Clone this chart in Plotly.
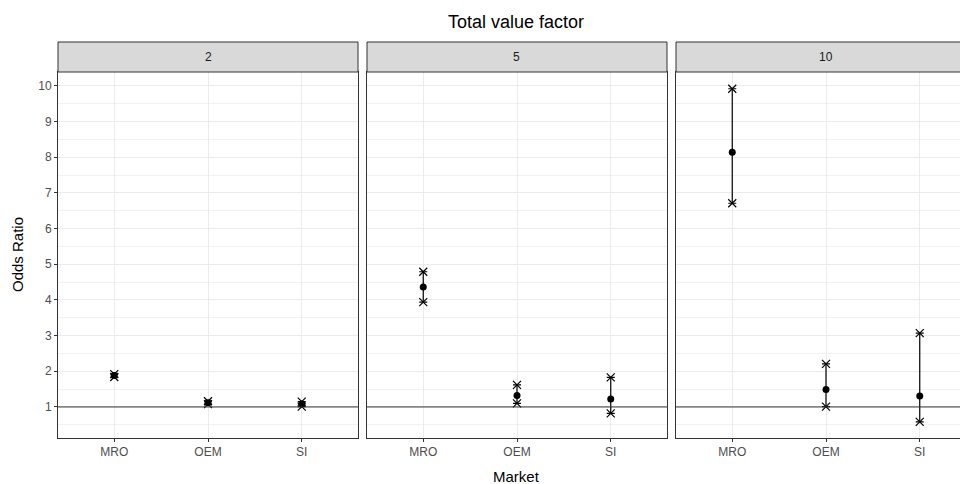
import plotly.graph_objects as go

markets = ["MRO", "OEM", "SI"]
facets = ["2", "5", "10"]
mean_vals = {"2": [1.88, 1.12, 1.08], "5": [4.36, 1.32, 1.22], "10": [8.14, 1.49, 1.31]}
low_vals = {"2": [1.84, 1.08, 1.01], "5": [3.94, 1.10, 0.82], "10": [6.71, 1.01, 0.58]}
high_vals = {"2": [1.92, 1.16, 1.15], "5": [4.79, 1.62, 1.83], "10": [9.92, 2.21, 3.07]}
y_ticks = [1, 2, 3, 4, 5, 6, 7, 8, 9, 10]

# the page body has an 8px margin; figure placed at (8, 8)
OFF = 8
W, H = 968 - OFF, 484 - OFF
FONT = "Liberation Sans"
panels_px = [(58, 358), (367, 667), (676, 968)]
unit_px = 300 / 3.2
top_px, bot_px, strip_top = 72, 438, 42


def px(xp):
    return (xp - OFF) / W


def py(yp):
    return (H - (yp - OFF)) / H


ydom = [py(bot_px), py(top_px)]
yrange = [0.13, 10.39]

fig = go.Figure()
for i, f in enumerate(facets):
    ax = "" if i == 0 else str(i + 1)
    xa, ya = "x" + ax, "y" + ax
    lo, hi = low_vals[f], high_vals[f]
    m = mean_vals[f]
    fig.add_trace(go.Scatter(
        x=markets, y=m, mode="markers", xaxis=xa, yaxis=ya,
        marker=dict(color="black", size=7),
        error_y=dict(type="data", symmetric=False,
                     array=[h - v for h, v in zip(hi, m)],
                     arrayminus=[v - l for l, v in zip(lo, m)],
                     color="black", thickness=1.2, width=4),
        showlegend=False, hoverinfo="skip"))
    fig.add_trace(go.Scatter(
        x=markets + markets, y=lo + hi, mode="markers", xaxis=xa, yaxis=ya,
        marker=dict(color="black", size=8, symbol="x-thin-open", line=dict(width=1.2, color="black")),
        showlegend=False, hoverinfo="skip"))
    x0, x1 = panels_px[i]
    rng_hi = -0.6 + (x1 - x0) / unit_px
    last = (i == len(facets) - 1)
    fig.layout["xaxis" + ax] = dict(
        domain=[px(x0), px(x1)], range=[-0.6, rng_hi], type="category",
        categoryorder="array", categoryarray=markets,
        showgrid=True, gridcolor="#EBEBEB", gridwidth=1,
        showline=True, linecolor="#333333", linewidth=1, mirror=True,
        ticks="outside", ticklen=3, tickcolor="#333333",
        tickfont=dict(family=FONT, size=12, color="#4D4D4D"),
        zeroline=False, anchor=ya, fixedrange=True)
    fig.layout["yaxis" + ax] = dict(
        domain=ydom, range=yrange, tickvals=y_ticks,
        showticklabels=(i == 0),
        showgrid=True, gridcolor="#EBEBEB", gridwidth=1,
        minor=dict(showgrid=True, gridcolor="#F2F2F2", gridwidth=0.6, tick0=0.5, dtick=1),
        showline=True, linecolor="#333333", linewidth=1, mirror=(not last),
        ticks="outside" if i == 0 else "", ticklen=3, tickcolor="#333333",
        tickfont=dict(family=FONT, size=12, color="#4D4D4D"),
        zeroline=False, anchor=xa, fixedrange=True)
    fig.add_shape(type="line", xref=xa + " domain", yref=ya, x0=0, x1=1, y0=1, y1=1,
                  line=dict(color="#333333", width=1), layer="above")
    fig.add_shape(type="rect", xref="paper", yref="paper",
                  x0=px(x0), x1=px(x1) + (0.01 if last else 0), y0=py(top_px), y1=py(strip_top),
                  fillcolor="#D9D9D9", line=dict(color="#333333", width=1))
    fig.add_annotation(text=f, xref="paper", yref="paper",
                       x=px((x0 + x1 + (8 if last else 0)) / 2), y=py((top_px + strip_top) / 2),
                       showarrow=False, font=dict(family=FONT, size=12, color="#1A1A1A"),
                       xanchor="center", yanchor="middle")

fig.add_annotation(text="Total value factor", xref="paper", yref="paper",
                   x=px(516), y=py(22), showarrow=False,
                   font=dict(family=FONT, size=18, color="black"), xanchor="center", yanchor="middle")
fig.add_annotation(text="Market", xref="paper", yref="paper",
                   x=px(516), y=py(476), showarrow=False,
                   font=dict(family=FONT, size=15, color="black"), xanchor="center", yanchor="middle")
fig.add_annotation(text="Odds Ratio", xref="paper", yref="paper",
                   x=px(18), y=py(255), showarrow=False, textangle=-90,
                   font=dict(family=FONT, size=15, color="black"), xanchor="center", yanchor="middle")

fig.update_layout(width=W, height=H, margin=dict(l=0, r=0, t=0, b=0),
                  paper_bgcolor="white", plot_bgcolor="white", showlegend=False)
fig.write_html("out.html")
